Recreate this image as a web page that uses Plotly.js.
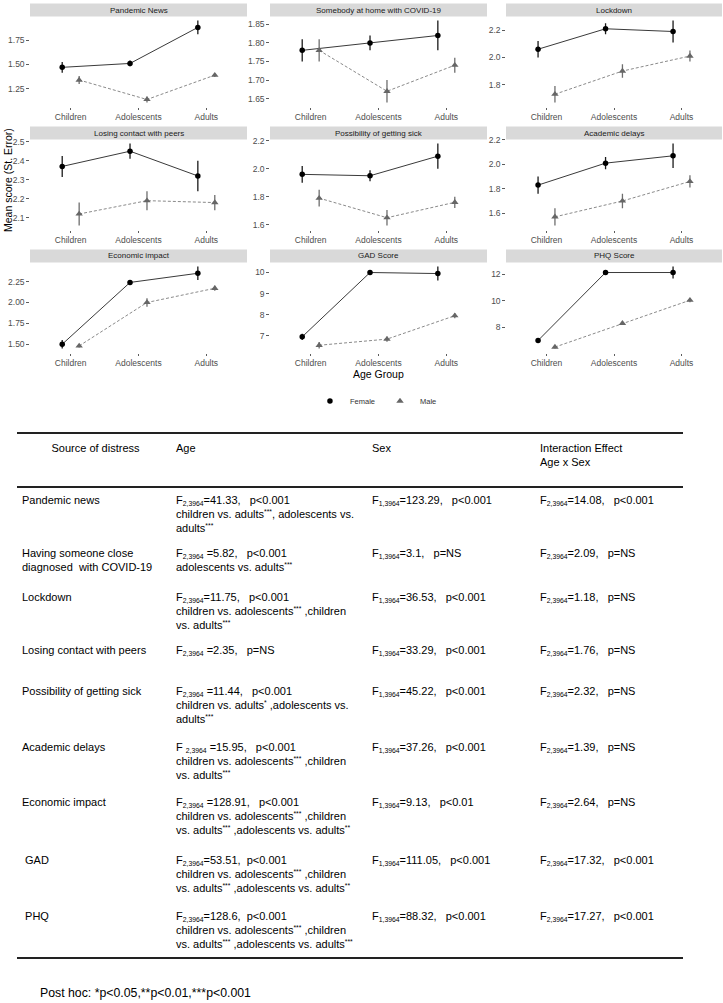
<!DOCTYPE html>
<html><head><meta charset="utf-8">
<script src="https://cdn.plot.ly/plotly-3.0.1.min.js"></script>
<style>
html,body{margin:0;padding:0;background:#fff;}
#wrap{position:relative;width:723px;height:1003px;overflow:hidden;}
#chart{position:absolute;left:0;top:0;width:723px;height:1003px;}
#table{position:absolute;left:0;top:0;width:723px;height:1003px;pointer-events:none;}
.cell{position:absolute;font-family:"Liberation Sans",Arial,sans-serif;font-size:11px;line-height:14px;color:#000;white-space:nowrap;}
.cell sub,.cell sup{font-size:62%;line-height:0;}
.cell sub{vertical-align:-0.3em;}
.cell sup{vertical-align:0.55em;}
</style>
</head><body><div id="wrap"><div id="chart"></div><div id="table"></div></div>
<script>
// ---------- DATA ----------
const ageGroups = ["Children", "Adolescents", "Adults"];
const panelTitles = ["Pandemic News", "Somebody at home with COVID-19", "Lockdown",
  "Losing contact with peers", "Possibility of getting sick", "Academic delays",
  "Economic impact", "GAD Score", "PHQ Score"];
const femaleMean = [
  [1.47, 1.51, 1.88], [1.78, 1.80, 1.82], [2.06, 2.21, 2.19],
  [2.37, 2.45, 2.32], [1.96, 1.95, 2.09], [1.83, 2.01, 2.07],
  [1.50, 2.24, 2.35], [6.95, 10.0, 9.95], [7.0, 12.15, 12.15]];
const femaleSE = [
  [0.055, 0.03, 0.07], [0.03, 0.02, 0.04], [0.06, 0.04, 0.08],
  [0.055, 0.04, 0.08], [0.06, 0.04, 0.09], [0.07, 0.05, 0.10],
  [0.05, 0.02, 0.08], [0.15, 0.06, 0.33], [0.15, 0.1, 0.45]];
const maleMean = [
  [1.34, 1.14, 1.39], [1.78, 1.67, 1.74], [1.73, 1.90, 2.01],
  [2.12, 2.19, 2.18], [1.79, 1.65, 1.76], [1.57, 1.70, 1.86],
  [1.48, 2.00, 2.17], [6.55, 6.84, 7.95], [6.5, 8.3, 10.05]];
const maleSE = [
  [0.04, 0.03, 0.02], [0.03, 0.03, 0.02], [0.06, 0.05, 0.04],
  [0.06, 0.05, 0.04], [0.06, 0.055, 0.04], [0.07, 0.06, 0.05],
  [0.02, 0.05, 0.03], [0.15, 0.12, 0.12], [0.1, 0.12, 0.15]];
const yTickVals = [
  [1.25, 1.5, 1.75], [1.65, 1.70, 1.75, 1.80, 1.85], [1.8, 2.0, 2.2],
  [2.1, 2.2, 2.3, 2.4, 2.5], [1.6, 1.8, 2.0, 2.2], [1.6, 1.8, 2.0, 2.2],
  [1.5, 1.75, 2.0, 2.25], [7, 8, 9, 10], [6, 8, 10, 12]];
const yTickText = [
  ["1.25", "1.50", "1.75"], ["1.65", "1.70", "1.75", "1.80", "1.85"], ["1.8", "2.0", "2.2"],
  ["2.1", "2.2", "2.3", "2.4", "2.5"], ["1.6", "1.8", "2.0", "2.2"], ["1.6", "1.8", "2.0", "2.2"],
  ["1.50", "1.75", "2.00", "2.25"], ["7", "8", "9", "10"], ["6", "8", "10", "12"]];
const seriesNames = ["Female", "Male"];

const tableHeader = ["Source of distress", "Age", "Sex", "Interaction Effect<br>Age x Sex"];
const sources = ["Pandemic news", "Having someone close<br>diagnosed\u00a0 with COVID-19", "Lockdown",
  "Losing contact with peers", "Possibility of getting sick", "Academic delays",
  "Economic impact", "\u00a0GAD", "\u00a0PHQ"];
const ageStats = [
  "F<sub>2,3964</sub>=41.33,\u00a0\u00a0 p&lt;0.001<br>children vs. adults<sup>***</sup>, adolescents vs.<br>adults<sup>***</sup>",
  "F<sub>2,3964</sub> =5.82,\u00a0\u00a0 p&lt;0.001<br>adolescents vs. adults<sup>***</sup>",
  "F<sub>2,3964</sub>=11.75,\u00a0\u00a0 p&lt;0.001<br>children vs. adolescents<sup>***</sup> ,children<br>vs. adults<sup>***</sup>",
  "F<sub>2,3964</sub> =2.35,\u00a0\u00a0 p=NS",
  "F<sub>2,3964</sub> =11.44,\u00a0\u00a0 p&lt;0.001<br>children vs. adults<sup>*</sup> ,adolescents vs.<br>adults<sup>***</sup>",
  "F <sub>2,3964</sub> =15.95,\u00a0\u00a0 p&lt;0.001<br>children vs. adolescents<sup>***</sup> ,children<br>vs. adults<sup>***</sup>",
  "F<sub>2,3964</sub> =128.91,\u00a0\u00a0 p&lt;0.001<br>children vs. adolescents<sup>***</sup> ,children<br>vs. adults<sup>***</sup> ,adolescents vs. adults<sup>**</sup>",
  "F<sub>2,3964</sub>=53.51,\u00a0 p&lt;0.001<br>children vs. adolescents<sup>***</sup> ,children<br>vs. adults<sup>***</sup> ,adolescents vs. adults<sup>**</sup>",
  "F<sub>2,3964</sub>=128.6,\u00a0 p&lt;0.001<br>children vs. adolescents<sup>***</sup> ,children<br>vs. adults<sup>***</sup> ,adolescents vs. adults<sup>***</sup>"];
const sexStats = [
  "F<sub>1,3964</sub>=123.29,\u00a0\u00a0 p&lt;0.001", "F<sub>1,3964</sub>=3.1,\u00a0\u00a0 p=NS",
  "F<sub>1,3964</sub>=36.53,\u00a0\u00a0 p&lt;0.001", "F<sub>1,3964</sub>=33.29,\u00a0\u00a0 p&lt;0.001",
  "F<sub>1,3964</sub>=45.22,\u00a0\u00a0 p&lt;0.001", "F<sub>1,3964</sub>=37.26,\u00a0\u00a0 p&lt;0.001",
  "F<sub>1,3964</sub>=9.13,\u00a0\u00a0 p&lt;0.01", "F<sub>1,3964</sub>=111.05,\u00a0\u00a0 p&lt;0.001",
  "F<sub>1,3964</sub>=88.32,\u00a0\u00a0 p&lt;0.001"];
const interactionStats = [
  "F<sub>2,3964</sub>=14.08,\u00a0\u00a0 p&lt;0.001", "F<sub>2,3964</sub>=2.09,\u00a0\u00a0 p=NS",
  "F<sub>2,3964</sub>=1.18,\u00a0\u00a0 p=NS", "F<sub>2,3964</sub>=1.76,\u00a0\u00a0 p=NS",
  "F<sub>2,3964</sub>=2.32,\u00a0\u00a0 p=NS", "F<sub>2,3964</sub>=1.39,\u00a0\u00a0 p=NS",
  "F<sub>2,3964</sub>=2.64,\u00a0\u00a0 p=NS", "F<sub>2,3964</sub>=17.32,\u00a0\u00a0 p&lt;0.001",
  "F<sub>2,3964</sub>=17.27,\u00a0\u00a0 p&lt;0.001"];
const footnote = "Post hoc: *p&lt;0.05,**p&lt;0.01,***p&lt;0.001";

// ---------- LAYOUT GEOMETRY (pixels) ----------
const W = 723, H = 1003;
const colX = [[30, 247], [270, 487], [506, 722]];
const rowY = [[16.5, 106.5], [139.5, 229.5], [262.5, 352.5]];
const stripH = 13;
const px = v => v / W, py = v => 1 - v / H;
const FONT = "Liberation Sans, Arial, sans-serif";

// table geometry
const tblLeft = 17, tblRight = 683;
const tblCols = [22, 176, 372, 540];
const headerY = 448;
const rowCenters = [500, 553, 597, 650, 691, 747, 802, 860, 916];
const ruleY = [433, 487, 958];
const footY = 993;

const traces = [];
const layout = {
  width: W, height: H, margin: {l: 0, r: 0, t: 0, b: 0},
  paper_bgcolor: "#fff", plot_bgcolor: "#fff",
  font: {family: FONT, color: "#000"},
  showlegend: true,
  legend: {orientation: "h", x: 0.52, xanchor: "center", y: py(401), yanchor: "middle",
    font: {size: 7.5, color: "#333"}, itemwidth: 30, bgcolor: "rgba(0,0,0,0)"},
  annotations: [], shapes: []
};

const dodge = 0.125;
panelTitles.forEach((title, i) => {
  const r = Math.floor(i / 3), c = i % 3;
  const s = i === 0 ? "" : String(i + 1);
  const xF = ageGroups.map((g, j) => j + 1 - dodge);
  const xM = ageGroups.map((g, j) => j + 1 + dodge);
  const lo = Math.min(...femaleMean[i].map((m, j) => m - femaleSE[i][j]), ...maleMean[i].map((m, j) => m - maleSE[i][j]));
  const hi = Math.max(...femaleMean[i].map((m, j) => m + femaleSE[i][j]), ...maleMean[i].map((m, j) => m + maleSE[i][j]));
  const pad = 0.05 * (hi - lo);
  layout["xaxis" + s] = {
    domain: [px(colX[c][0]), px(colX[c][1])], anchor: "y" + s,
    range: [0.4, 3.6], tickvals: [1, 2, 3], ticktext: ageGroups,
    ticks: "outside", ticklen: 2.7, tickwidth: 0.8, tickcolor: "#333",
    showgrid: false, zeroline: false, showline: false,
    tickfont: {size: 8.5, color: "#4d4d4d"}, fixedrange: true
  };
  layout["yaxis" + s] = {
    domain: [py(rowY[r][1]), py(rowY[r][0])], anchor: "x" + s,
    range: [lo - pad, hi + pad], tickvals: yTickVals[i], ticktext: yTickText[i],
    ticks: "outside", ticklen: 2.7, tickwidth: 0.8, tickcolor: "#333",
    showgrid: false, zeroline: false, showline: false,
    tickfont: {size: 8.5, color: "#4d4d4d"}, fixedrange: true
  };
  traces.push({type: "scatter", mode: "lines", x: xF, y: femaleMean[i], xaxis: "x" + s, yaxis: "y" + s,
    line: {color: "#3a3a3a", width: 1}, showlegend: false, hoverinfo: "skip"});
  traces.push({type: "scatter", mode: "lines", x: xM, y: maleMean[i], xaxis: "x" + s, yaxis: "y" + s,
    line: {color: "#8a8a8a", width: 1, dash: "3px,2px"}, showlegend: false, hoverinfo: "skip"});
  traces.push({type: "scatter", mode: "markers", name: seriesNames[0], legendgroup: "F", showlegend: i === 0,
    x: xF, y: femaleMean[i], xaxis: "x" + s, yaxis: "y" + s,
    error_y: {type: "data", array: femaleSE[i], visible: true, width: 0, thickness: 1.3, color: "#1a1a1a"},
    marker: {symbol: "circle", size: 5.5, color: "#000"}});
  traces.push({type: "scatter", mode: "markers", name: seriesNames[1], legendgroup: "M", showlegend: i === 0,
    x: xM, y: maleMean[i], xaxis: "x" + s, yaxis: "y" + s,
    error_y: {type: "data", array: maleSE[i], visible: true, width: 0, thickness: 1.3, color: "#6e6e6e"},
    marker: {symbol: "triangle-up", size: 6.5, color: "#666"}});
  // strip
  const sTop = rowY[r][0] - stripH;
  layout.shapes.push({type: "rect", xref: "paper", yref: "paper",
    x0: px(colX[c][0]), x1: px(colX[c][1]), y0: py(rowY[r][0]), y1: py(sTop),
    fillcolor: "#d9d9d9", line: {width: 0}, layer: "below"});
  layout.annotations.push({xref: "paper", yref: "paper", x: px((colX[c][0] + colX[c][1]) / 2),
    y: py(sTop + stripH / 2), text: title, showarrow: false, xanchor: "center", yanchor: "middle",
    font: {size: 8, color: "#1a1a1a"}});
});

// axis titles
layout.annotations.push({xref: "paper", yref: "paper", x: px(8), y: py(180), text: "Mean score (St. Error)",
  textangle: -90, showarrow: false, xanchor: "center", yanchor: "middle", font: {size: 10.5, color: "#000"}});
layout.annotations.push({xref: "paper", yref: "paper", x: px((colX[1][0] + colX[1][1]) / 2), y: py(374),
  text: "Age Group", showarrow: false, xanchor: "center", yanchor: "middle", font: {size: 10.5, color: "#000"}});

// table rules
ruleY.forEach((yv, k) => {
  layout.shapes.push({type: "line", xref: "paper", yref: "paper", x0: px(tblLeft), x1: px(tblRight),
    y0: py(yv), y1: py(yv), line: {color: "#222", width: k === 2 ? 2.2 : 1.8}});
});

Plotly.newPlot("chart", traces, layout, {staticPlot: true, displayModeBar: false});

// ---------- TABLE TEXT (HTML) ----------
const tbl = document.getElementById("table");
function addCell(html, left, top, extra) {
  const d = document.createElement("div");
  d.className = "cell";
  d.style.left = left + "px";
  d.style.top = top + "px";
  if (extra) Object.assign(d.style, extra);
  d.innerHTML = html;
  tbl.appendChild(d);
}
tableHeader.forEach((t, k) => {
  if (k === 0) addCell(t, tblLeft, headerY - 7, {width: (tblCols[1] - tblLeft - 2) + "px", textAlign: "center"});
  else addCell(t, tblCols[k], headerY - 7);
});
[sources, ageStats, sexStats, interactionStats].forEach((col, k) => {
  col.forEach((t, j) => addCell(t, tblCols[k], rowCenters[j] - 7));
});
addCell(footnote, 40, footY - 8, {fontSize: "12.3px", lineHeight: "16px"});
</script></body></html>
